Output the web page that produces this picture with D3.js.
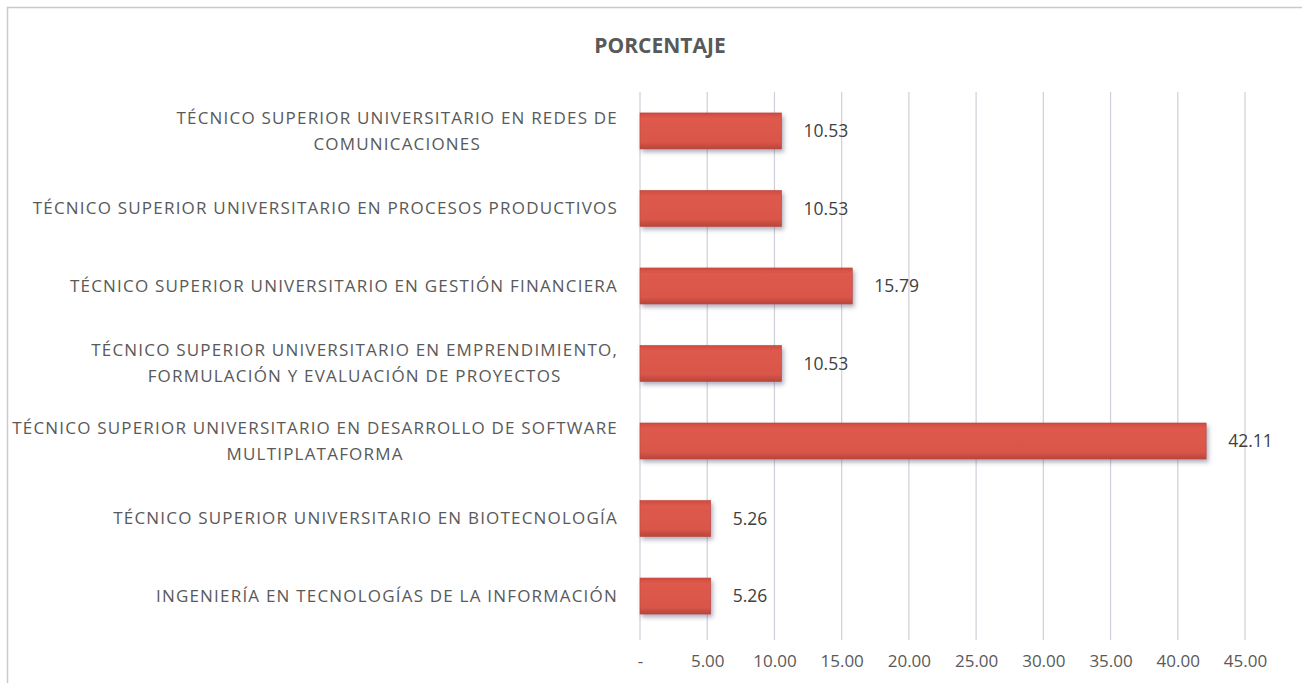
<!DOCTYPE html>
<meta charset="utf-8">
<script src="https://d3js.org/d3.v7.min.js"></script>
<style type="text/css">
body { margin: 0; background: #fff; }
.chart text { font-family: "Open Sans", "Noto Sans", sans-serif; fill: #595959; }
.chart .titulo { font-weight: bold; font-size: 21px; }
.chart .cat { font-size: 17px; letter-spacing: 1.2px; }
.chart .valor { font-size: 17.5px; fill: #404040; }
.chart .axis text { font-size: 17px; }
.chart .grid line { stroke: #cfcfd8; stroke-width: 1.2; }
</style>
<body>
<div id="canvas"></div>
<script>

// categorias (de arriba hacia abajo)
var categorias = [
  ["TÉCNICO SUPERIOR UNIVERSITARIO EN REDES DE", "COMUNICACIONES"],
  ["TÉCNICO SUPERIOR UNIVERSITARIO EN PROCESOS PRODUCTIVOS"],
  ["TÉCNICO SUPERIOR UNIVERSITARIO EN GESTIÓN FINANCIERA"],
  ["TÉCNICO SUPERIOR UNIVERSITARIO EN EMPRENDIMIENTO,", "FORMULACIÓN Y EVALUACIÓN DE PROYECTOS"],
  ["TÉCNICO SUPERIOR UNIVERSITARIO EN DESARROLLO DE SOFTWARE", "MULTIPLATAFORMA"],
  ["TÉCNICO SUPERIOR UNIVERSITARIO EN BIOTECNOLOGÍA"],
  ["INGENIERÍA EN TECNOLOGÍAS DE LA INFORMACIÓN"]
];
var porcentajes = [10.53, 10.53, 15.79, 10.53, 42.11, 5.26, 5.26];
var ticks = [0, 5, 10, 15, 20, 25, 30, 35, 40, 45];
var tickLabels = ["-", "5.00", "10.00", "15.00", "20.00", "25.00", "30.00", "35.00", "40.00", "45.00"];
var titulo = "PORCENTAJE";

var width = 1302, height = 683;
var margin = {top: 92, right: 57, bottom: 48, left: 640};

var svg = d3.select('#canvas').append('svg')
  .attr('width', width).attr('height', height)
  .attr('class', 'chart');

// borde del grafico
svg.append('rect')
  .attr('x', 7.5).attr('y', 7.5)
  .attr('width', width - 6).attr('height', height + 10)
  .style('fill', 'none').style('stroke', '#c9c9d4').style('stroke-width', 1.5);

var defs = svg.append('defs');
var grad = defs.append('linearGradient').attr('id', 'gbar')
  .attr('x1', 0).attr('y1', 0).attr('x2', 0).attr('y2', 1);
grad.append('stop').attr('offset', '0%').attr('stop-color', '#cf4a3f');
grad.append('stop').attr('offset', '15%').attr('stop-color', '#de5a4c');
grad.append('stop').attr('offset', '80%').attr('stop-color', '#d9564a');
grad.append('stop').attr('offset', '100%').attr('stop-color', '#b9443a');
var filtro = defs.append('filter').attr('id', 'sombra')
  .attr('x', '-5%').attr('y', '-20%').attr('width', '115%').attr('height', '160%');
filtro.append('feDropShadow').attr('dx', 2).attr('dy', 3).attr('stdDeviation', 2)
  .attr('flood-color', '#555577').attr('flood-opacity', 0.45);

var x = d3.scaleLinear()
  .domain([0, 45])
  .range([margin.left, width - margin.right]);

var y = d3.scaleBand()
  .domain(d3.range(categorias.length))
  .range([margin.top, height - margin.bottom])
  .paddingInner(0.535).paddingOuter(0.27);

// titulo
svg.append('text')
  .attr('class', 'titulo')
  .attr('x', 660).attr('y', 53)
  .attr('text-anchor', 'middle')
  .text(titulo);

// lineas de cuadricula
svg.append('g').attr('class', 'grid')
  .selectAll('line').data(ticks).enter().append('line')
  .attr('x1', function(d) { return x(d); })
  .attr('x2', function(d) { return x(d); })
  .attr('y1', margin.top)
  .attr('y2', height - margin.bottom + 5);

// eje x
var xAxis = d3.axisBottom(x)
  .tickValues(ticks)
  .tickSize(0)
  .tickPadding(17)
  .tickFormat(function(d, i) { return tickLabels[i]; });

var gx = svg.append('g')
  .attr('class', 'axis')
  .attr('transform', 'translate(0,' + (height - margin.bottom + 3) + ')')
  .call(xAxis);
gx.select('.domain').remove();

// barras
svg.append('g').selectAll('rect').data(porcentajes).enter().append('rect')
  .attr('x', x(0))
  .attr('y', function(d, i) { return y(i); })
  .attr('width', function(d) { return x(d) - x(0); })
  .attr('height', y.bandwidth())
  .style('fill', 'url(#gbar)')
  .style('stroke', '#b8463c').style('stroke-width', 0.6)
  .attr('filter', 'url(#sombra)');

// valores
svg.append('g').selectAll('text').data(porcentajes).enter().append('text')
  .attr('class', 'valor')
  .attr('x', function(d) { return x(d) + 22; })
  .attr('y', function(d, i) { return y(i) + y.bandwidth() / 2; })
  .attr('dy', '0.35em')
  .text(function(d) { return d.toFixed(2); });

// etiquetas de categorias
var gcat = svg.append('g');
var labelRight = x(0) - 22;
categorias.forEach(function(lines, i) {
  var t = gcat.append('text').attr('class', 'cat').attr('text-anchor', 'middle');
  var cy = y(i) + y.bandwidth() / 2;
  var lh = 26;
  lines.forEach(function(l, j) {
    t.append('tspan')
      .attr('y', cy + (j - (lines.length - 1) / 2) * lh)
      .attr('dy', '0.35em')
      .text(l);
  });
  // ancho de la linea mas larga, para alinear a la derecha
  var maxW = 0;
  t.selectAll('tspan').each(function() {
    maxW = Math.max(maxW, this.getComputedTextLength());
  });
  t.selectAll('tspan').attr('x', labelRight - maxW / 2);
});
</script>
</body>
